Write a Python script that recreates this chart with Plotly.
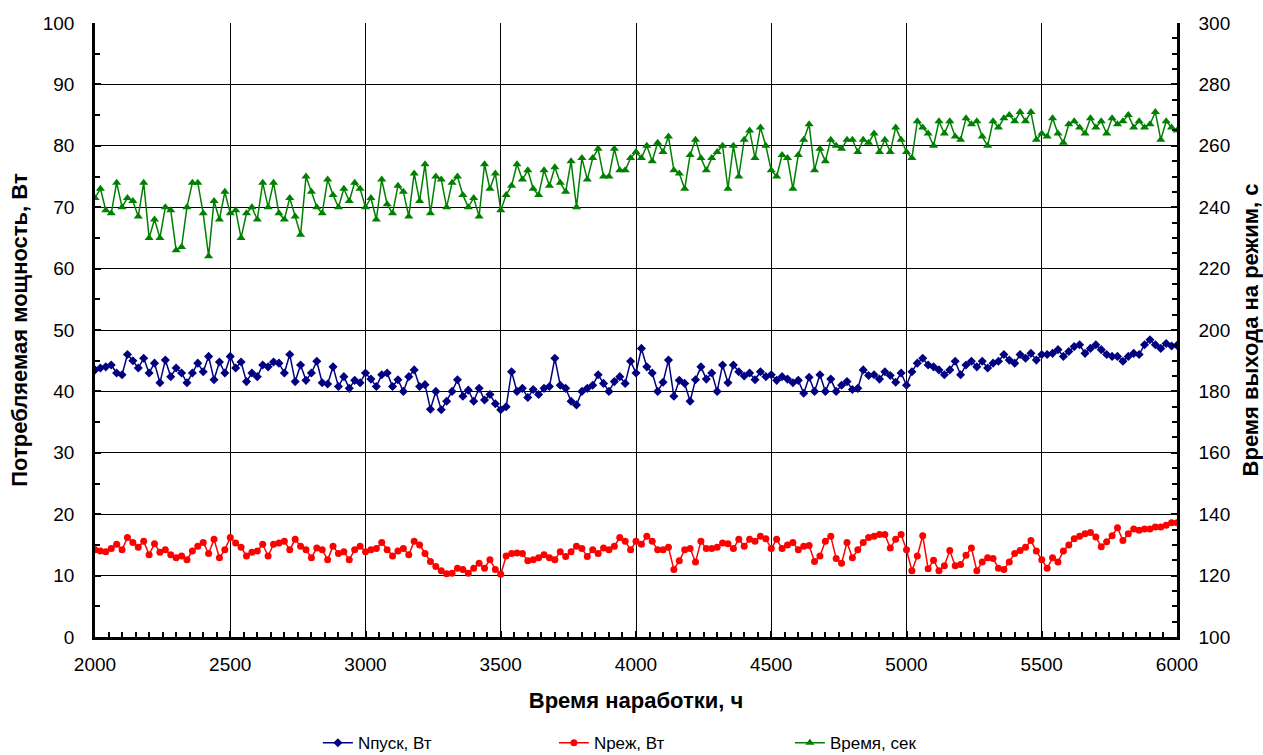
import plotly.graph_objects as go

hours = list(range(2000, 6001, 20))

n_start_seg1 = [43.5, 43.8, 44.0, 44.3, 43.0, 42.7, 46.0, 45.0, 43.8, 45.4,
                43.0, 44.6, 41.4, 45.1, 42.4, 43.8, 43.0, 41.4, 43.0, 44.6,
                43.2, 45.7, 41.9, 44.8, 43.0, 45.7, 43.8, 44.8, 41.6, 43.0,
                42.4, 44.3, 44.0, 44.8, 44.6, 43.0, 46.0, 41.6, 44.3, 41.8,
                43.0, 44.9, 41.4, 41.2, 44.0, 40.8, 42.4, 40.5, 41.8, 41.4,
                43.0]
n_start_seg2 = [42.0, 40.8, 42.7, 43.0, 40.8, 41.9, 40.0, 42.4, 43.5, 40.8,
                41.1, 37.1, 40.0, 37.0, 38.4, 40.0, 41.9, 39.2, 40.2, 38.4,
                40.5, 38.6, 39.5, 38.0, 37.0, 37.5, 43.2, 40.0, 40.5, 39.0,
                40.3, 39.5, 40.5, 40.8, 45.4, 41.0, 40.5, 38.4, 37.8, 40.0,
                40.5, 41.0, 42.7, 41.3, 40.0, 41.6, 42.4, 41.3, 44.9, 43.0]
n_start_seg3 = [47.0, 44.0, 43.0, 40.0, 41.5, 45.1, 39.2, 41.8, 41.3, 38.4,
                41.9, 44.0, 42.0, 43.0, 40.0, 44.3, 41.4, 44.3, 43.2, 42.5,
                43.0, 41.9, 43.2, 42.4, 42.7, 41.8, 42.4, 42.0, 41.4, 41.8,
                39.7, 42.3, 40.0, 42.7, 40.0, 42.0, 40.0, 41.0, 41.6, 40.3,
                40.5, 43.5, 42.6, 42.7, 42.0, 43.2, 42.6, 41.5, 43.0, 41.0]
n_start_seg4 = [43.2, 44.6, 45.4, 44.3, 44.0, 43.5, 42.7, 43.5, 44.9, 42.7,
                44.3, 44.9, 44.0, 44.9, 43.8, 44.6, 44.9, 46.0, 45.1, 44.6,
                46.0, 45.4, 46.2, 45.1, 46.0, 46.0, 46.2, 46.8, 45.7, 46.5,
                47.3, 47.6, 46.2, 47.0, 47.6, 46.8, 46.0, 45.7, 45.7, 44.9,
                45.7, 46.2, 46.0, 47.6, 48.4, 47.6, 47.0, 47.8, 47.4, 47.5]

n_mode_seg1 = [14.2, 14.0, 13.9, 14.4, 15.1, 14.2, 16.2, 15.4, 14.6, 15.6,
               13.4, 15.2, 13.8, 14.2, 13.4, 12.9, 13.2, 12.6, 14.0, 14.8,
               15.4, 13.6, 15.9, 12.9, 14.2, 16.2, 15.3, 14.6, 13.2, 13.8,
               14.0, 15.1, 13.2, 15.1, 15.3, 15.6, 14.2, 15.9, 14.8, 14.2,
               12.9, 14.5, 14.2, 12.6, 14.8, 13.6, 13.9, 12.6, 14.2, 14.8,
               13.9]
n_mode_seg2 = [14.2, 14.4, 15.4, 14.2, 13.2, 14.0, 14.4, 13.4, 15.6, 15.0,
               13.6, 12.3, 11.5, 10.8, 10.3, 10.4, 11.2, 11.0, 10.4, 11.2,
               12.0, 11.2, 12.6, 11.0, 10.2, 13.2, 13.6, 13.7, 13.6, 12.4,
               12.6, 12.9, 13.4, 12.9, 12.6, 13.9, 13.1, 13.9, 14.8, 14.4,
               13.1, 14.2, 13.6, 14.5, 14.2, 14.8, 16.2, 15.6, 14.2, 15.6]
n_mode_seg3 = [15.1, 16.4, 15.6, 14.2, 14.2, 14.6, 11.0, 12.4, 14.2, 14.4,
               12.2, 15.6, 14.4, 14.4, 14.6, 15.3, 15.2, 14.4, 15.9, 14.8,
               15.9, 15.6, 16.4, 16.0, 14.4, 15.9, 14.4, 15.0, 15.4, 14.2,
               14.8, 14.9, 12.3, 13.2, 15.6, 16.4, 12.8, 12.0, 15.4, 12.9,
               14.2, 15.4, 16.2, 16.4, 16.7, 16.7, 14.5, 15.9, 16.7, 14.2]
n_mode_seg4 = [10.8, 13.2, 16.5, 11.1, 12.5, 10.8, 11.6, 14.1, 11.6, 11.8,
               13.3, 14.5, 10.8, 12.2, 12.9, 12.8, 11.2, 11.0, 12.2, 13.6,
               14.1, 14.6, 15.7, 14.0, 12.6, 11.2, 12.9, 12.2, 14.0, 15.0,
               16.0, 16.4, 16.8, 17.0, 16.3, 14.7, 15.5, 16.5, 17.8, 15.7,
               16.8, 17.6, 17.4, 17.6, 17.6, 17.9, 17.9, 18.2, 18.6, 18.6]

time_seg1 = [243, 246, 239, 238, 248, 240, 243, 242, 237, 248,
             230, 236, 230, 240, 239, 226, 227, 240, 248, 248,
             238, 224, 242, 236, 245, 238, 239, 230, 238, 240,
             236, 248, 240, 248, 238, 236, 243, 237, 231, 250,
             245, 240, 238, 249, 244, 240, 246, 242, 248, 246,
             240]
time_seg2 = [243, 236, 249, 241, 238, 247, 245, 237, 251, 242,
             254, 238, 250, 249, 240, 248, 250, 244, 240, 243,
             237, 254, 246, 251, 239, 244, 247, 254, 249, 252,
             246, 244, 252, 247, 253, 248, 245, 255, 240, 256,
             249, 256, 259, 250, 250, 259, 252, 252, 256, 258]
time_seg3 = [256, 260, 255, 261, 258, 263, 252, 251, 246, 257,
             262, 256, 252, 256, 258, 260, 246, 260, 250, 262,
             265, 256, 266, 260, 252, 250, 257, 256, 246, 257,
             262, 267, 252, 259, 255, 262, 260, 259, 262, 262,
             258, 262, 261, 264, 258, 262, 258, 266, 262, 258]
time_seg4 = [256, 268, 266, 264, 260, 268, 264, 268, 263, 262,
             269, 267, 268, 263, 260, 268, 266, 269, 270, 268,
             271, 268, 271, 262, 264, 263, 269, 264, 261, 267,
             268, 266, 264, 269, 266, 268, 264, 269, 267, 268,
             270, 266, 268, 266, 267, 271, 262, 268, 266, 265]

n_start = n_start_seg1 + n_start_seg2 + n_start_seg3 + n_start_seg4
n_mode = n_mode_seg1 + n_mode_seg2 + n_mode_seg3 + n_mode_seg4
time_sec = time_seg1 + time_seg2 + time_seg3 + time_seg4

FONT = "Arial, Liberation Sans, sans-serif"

fig = go.Figure()
fig.add_trace(go.Scatter(
    x=hours, y=n_start, name="Nпуск, Вт", mode="lines+markers",
    line=dict(color="#000080", width=1.5),
    marker=dict(symbol="diamond", size=7, color="#000080")))
fig.add_trace(go.Scatter(
    x=hours, y=n_mode, name="Nреж, Вт", mode="lines+markers",
    line=dict(color="#FF0000", width=1.5),
    marker=dict(symbol="circle", size=7, color="#FF0000")))
fig.add_trace(go.Scatter(
    x=hours, y=time_sec, name="Время, сек", mode="lines+markers", yaxis="y2",
    line=dict(color="#008000", width=1.5),
    marker=dict(symbol="triangle-up", size=8, color="#008000")))

axis_common = dict(
    showline=True, linecolor="black", linewidth=2.5,
    ticks="inside", ticklen=6, tickwidth=2, tickcolor="black",
    zeroline=False, tickfont=dict(family=FONT, size=19, color="black"),
)
TITLE_FONT = dict(family=FONT, size=22, color="black")

fig.update_layout(
    width=1263, height=755,
    margin=dict(l=95, r=86, t=23, b=118, autoexpand=False),
    paper_bgcolor="white", plot_bgcolor="white",
    font=dict(family=FONT, color="black"),
    xaxis=dict(
        range=[2000, 6000], tick0=2000, dtick=500,
        showgrid=True, gridcolor="black", gridwidth=1.2,
        minor=dict(dtick=50, ticks="inside", ticklen=5, tickwidth=1.5,
                   tickcolor="black", showgrid=False),
        ticklabelstandoff=8,
        title=dict(text="<b>Время наработки, ч</b>", font=TITLE_FONT, standoff=20),
        **axis_common),
    yaxis=dict(
        range=[0, 100], tick0=0, dtick=10,
        showgrid=True, gridcolor="black", gridwidth=1.2,
        minor=dict(dtick=5, ticks="inside", ticklen=5, tickwidth=1.5,
                   tickcolor="black", showgrid=False),
        ticklabelstandoff=14,
        title=dict(text="<b>Потребляемая мощность, Вт</b>", font=TITLE_FONT, standoff=10),
        **axis_common),
    yaxis2=dict(
        range=[100, 300], tick0=100, dtick=20, overlaying="y", side="right",
        showgrid=False,
        minor=dict(dtick=5, ticks="inside", ticklen=5, tickwidth=1.5,
                   tickcolor="black", showgrid=False),
        ticklabelstandoff=15,
        title=dict(text="<b>Время выхода на режим, с</b>", font=TITLE_FONT, standoff=14),
        **axis_common),
    legend=dict(orientation="h", x=0.206, xanchor="left", y=-0.173,
                yanchor="middle", font=dict(family=FONT, size=17),
                entrywidth=191, itemwidth=30, bgcolor="rgba(0,0,0,0)"),
    showlegend=True,
)

fig.write_html("out.html")
